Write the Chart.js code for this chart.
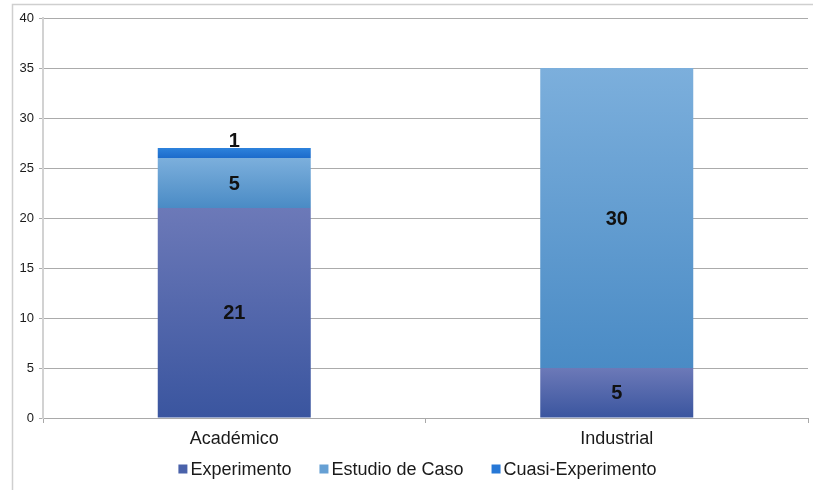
<!DOCTYPE html>
<html lang="es">
  <head>
    <meta charset="utf-8" />
    <title>Tipo de estudio</title>
    <script src="https://cdn.jsdelivr.net/npm/chart.js@4.4.1/dist/chart.umd.min.js"></script>
    <style>
      html, body { margin: 0; padding: 0; background: #fff; }
      canvas { display: block; }
    </style>
  </head>
  <body>
    <canvas id="chart" width="813" height="490"></canvas>
    <script>
      const categories = ["Académico", "Industrial"];
      const experimento = [21, 5];
      const estudioDeCaso = [5, 30];
      const cuasiExperimento = [1, 0];
      const yTicks = [0, 5, 10, 15, 20, 25, 30, 35, 40];

      const seriesNames = ["Experimento", "Estudio de Caso", "Cuasi-Experimento"];
      const seriesValues = [experimento, estudioDeCaso, cuasiExperimento];
      // top / bottom colour of each segment's vertical gradient
      const seriesColors = [
        ["#6c79b8", "#3a559f"],
        ["#7cafdc", "#4a8bc5"],
        ["#2d82dc", "#1c6bcb"],
      ];
      const legendColors = ["#4a62aa", "#66a0d4", "#2778d6"];

      const FONT = "'Liberation Sans', Arial, sans-serif";

      // value where each segment starts in the stack
      function stackBase(dsIndex, i) {
        let s = 0;
        for (let d = 0; d < dsIndex; d++) s += seriesValues[d][i];
        return s;
      }

      function segmentFill(ctx) {
        const chart = ctx.chart;
        const cols = seriesColors[ctx.datasetIndex];
        const y = chart.scales.y;
        if (!y || !chart.chartArea || ctx.dataIndex === undefined) return cols[1];
        const b = stackBase(ctx.datasetIndex, ctx.dataIndex);
        const v = seriesValues[ctx.datasetIndex][ctx.dataIndex];
        const top = y.getPixelForValue(b + v);
        const bottom = y.getPixelForValue(b);
        if (!isFinite(top) || !isFinite(bottom) || top === bottom) return cols[1];
        const g = chart.ctx.createLinearGradient(0, top, 0, bottom);
        g.addColorStop(0, cols[0]);
        g.addColorStop(1, cols[1]);
        return g;
      }

      const frame = {
        id: "frame",
        beforeDraw(chart) {
          const c = chart.ctx;
          c.save();
          c.strokeStyle = "#cfcfcf";
          c.lineWidth = 1.5;
          c.beginPath();
          c.moveTo(12.5, 490);
          c.lineTo(12.5, 4.5);
          c.lineTo(813, 4.5);
          c.stroke();
          c.restore();
        },
      };

      const segmentLabels = {
        id: "segmentLabels",
        afterDatasetsDraw(chart) {
          const c = chart.ctx;
          c.save();
          c.font = "bold 20px " + FONT;
          c.fillStyle = "#111";
          c.textAlign = "center";
          c.textBaseline = "middle";
          chart.data.datasets.forEach((ds, d) => {
            chart.getDatasetMeta(d).data.forEach((el, i) => {
              const v = ds.data[i];
              if (!v) return;
              const h = Math.abs(el.base - el.y);
              const ty = h < 18 ? el.y - 7 : (el.y + el.base) / 2 + 1;
              c.fillText(String(v), el.x, ty);
            });
          });
          c.restore();
        },
      };

      // legend row under the axis: small square + name, wide gaps
      const bottomLegend = {
        id: "bottomLegend",
        afterDraw(chart) {
          const c = chart.ctx;
          const box = 9, gap = 3, spacing = 28, y = 469;
          c.save();
          c.font = "18px " + FONT;
          c.textBaseline = "middle";
          const widths = seriesNames.map((n) => c.measureText(n).width);
          const total = widths.reduce((a, w) => a + w + box + gap, 0) + spacing * (seriesNames.length - 1);
          const area = chart.chartArea;
          let x = (area.left + area.right) / 2 - 8 - total / 2;
          seriesNames.forEach((name, d) => {
            c.fillStyle = legendColors[d];
            c.fillRect(x, y - box / 2, box, box);
            c.fillStyle = "#1a1a1a";
            c.fillText(name, x + box + gap, y + 1);
            x += box + gap + widths[d] + spacing;
          });
          c.restore();
        },
      };

      new Chart(document.getElementById("chart"), {
        type: "bar",
        data: {
          labels: categories,
          datasets: seriesNames.map((name, d) => ({
            label: name,
            data: seriesValues[d],
            backgroundColor: segmentFill,
            borderWidth: 0,
            barPercentage: 0.4,
            categoryPercentage: 1,
          })),
        },
        options: {
          responsive: false,
          animation: false,
          layout: { padding: { top: 18, right: 5, left: 0, bottom: 38 } },
          scales: {
            x: {
              stacked: true,
              grid: {
                offset: true,
                drawOnChartArea: false,
                drawTicks: true,
                tickLength: 5,
                color: "#a9a9a9",
              },
              border: { color: "#a9a9a9", width: 1 },
              ticks: {
                color: "#1a1a1a",
                font: { family: FONT, size: 18 },
                padding: 5,
              },
              afterFit(scale) { scale.height = 34; },
            },
            y: {
              stacked: true,
              min: 0,
              max: 40,
              afterBuildTicks(scale) {
                scale.ticks = yTicks.map((v) => ({ value: v }));
              },
              grid: { color: "#ababab", tickLength: 4 },
              border: { color: "#d2d2d2", width: 2 },
              ticks: {
                color: "#1a1a1a",
                font: { family: FONT, size: 13 },
                padding: 5,
              },
              afterFit(scale) { scale.width = 43; },
            },
          },
          plugins: {
            legend: { display: false },
            tooltip: { enabled: false },
          },
        },
        plugins: [frame, segmentLabels, bottomLegend],
      });
    </script>
  </body>
</html>
